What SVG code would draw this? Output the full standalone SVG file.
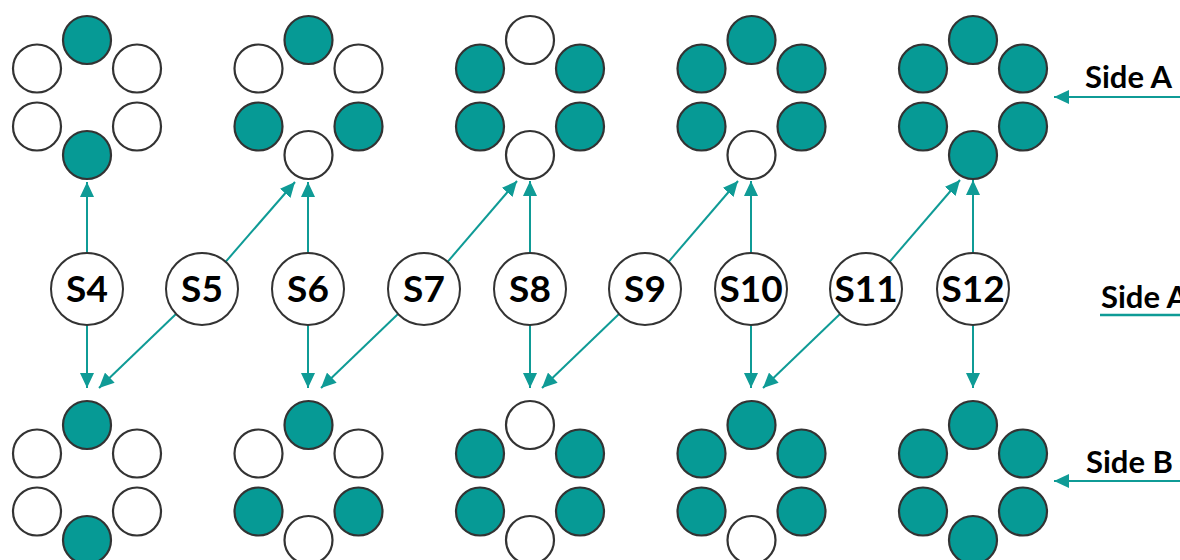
<svg xmlns="http://www.w3.org/2000/svg" width="1180" height="560" viewBox="0 0 1180 560">
<style>
.on{fill:#069a95;stroke:#333;stroke-width:2.2}
.off{fill:#fff;stroke:#333;stroke-width:2.2}
.snode{fill:#fff;stroke:#333;stroke-width:2}
.slabel{font-family:Lato,"Liberation Sans",sans-serif;font-weight:700;font-size:37px;fill:#000;text-anchor:middle}
.side{font-family:Lato,"Liberation Sans",sans-serif;font-weight:700;font-size:31px;fill:#000}
.conn{stroke:#0f9b96;stroke-width:2;fill:none;marker-end:url(#ah)}
.plain{stroke:#0f9b96;stroke-width:2.5;fill:none}
</style>
<defs>
<marker id="ah" viewBox="0 0 15 14" refX="15" refY="7" markerWidth="15" markerHeight="14" markerUnits="userSpaceOnUse" orient="auto">
<path d="M0,0 L15,7 L0,14 z" fill="#0f9b96"/>
</marker>
</defs>
<rect width="1180" height="560" fill="#fff"/>

<!-- top clusters: cy=97.5 -->
<g id="top1" transform="translate(87,97.5)">
<circle class="on" cx="0" cy="-57.5" r="24"/><circle class="off" cx="-50" cy="-29" r="24"/><circle class="off" cx="50" cy="-29" r="24"/>
<circle class="off" cx="-50" cy="29" r="24"/><circle class="off" cx="50" cy="29" r="24"/><circle class="on" cx="0" cy="57.5" r="24"/>
</g>
<g id="top2" transform="translate(308.5,97.5)">
<circle class="on" cx="0" cy="-57.5" r="24"/><circle class="off" cx="-50" cy="-29" r="24"/><circle class="off" cx="50" cy="-29" r="24"/>
<circle class="on" cx="-50" cy="29" r="24"/><circle class="on" cx="50" cy="29" r="24"/><circle class="off" cx="0" cy="57.5" r="24"/>
</g>
<g id="top3" transform="translate(530,97.5)">
<circle class="off" cx="0" cy="-57.5" r="24"/><circle class="on" cx="-50" cy="-29" r="24"/><circle class="on" cx="50" cy="-29" r="24"/>
<circle class="on" cx="-50" cy="29" r="24"/><circle class="on" cx="50" cy="29" r="24"/><circle class="off" cx="0" cy="57.5" r="24"/>
</g>
<g id="top4" transform="translate(751.5,97.5)">
<circle class="on" cx="0" cy="-57.5" r="24"/><circle class="on" cx="-50" cy="-29" r="24"/><circle class="on" cx="50" cy="-29" r="24"/>
<circle class="on" cx="-50" cy="29" r="24"/><circle class="on" cx="50" cy="29" r="24"/><circle class="off" cx="0" cy="57.5" r="24"/>
</g>
<g id="top5" transform="translate(973,97.5)">
<circle class="on" cx="0" cy="-57.5" r="24"/><circle class="on" cx="-50" cy="-29" r="24"/><circle class="on" cx="50" cy="-29" r="24"/>
<circle class="on" cx="-50" cy="29" r="24"/><circle class="on" cx="50" cy="29" r="24"/><circle class="on" cx="0" cy="57.5" r="24"/>
</g>

<!-- bottom clusters: cy=482.5 -->
<g id="bot1" transform="translate(87,482.5)">
<circle class="on" cx="0" cy="-57.5" r="24"/><circle class="off" cx="-50" cy="-29" r="24"/><circle class="off" cx="50" cy="-29" r="24"/>
<circle class="off" cx="-50" cy="29" r="24"/><circle class="off" cx="50" cy="29" r="24"/><circle class="on" cx="0" cy="57.5" r="24"/>
</g>
<g id="bot2" transform="translate(308.5,482.5)">
<circle class="on" cx="0" cy="-57.5" r="24"/><circle class="off" cx="-50" cy="-29" r="24"/><circle class="off" cx="50" cy="-29" r="24"/>
<circle class="on" cx="-50" cy="29" r="24"/><circle class="on" cx="50" cy="29" r="24"/><circle class="off" cx="0" cy="57.5" r="24"/>
</g>
<g id="bot3" transform="translate(530,482.5)">
<circle class="off" cx="0" cy="-57.5" r="24"/><circle class="on" cx="-50" cy="-29" r="24"/><circle class="on" cx="50" cy="-29" r="24"/>
<circle class="on" cx="-50" cy="29" r="24"/><circle class="on" cx="50" cy="29" r="24"/><circle class="off" cx="0" cy="57.5" r="24"/>
</g>
<g id="bot4" transform="translate(751.5,482.5)">
<circle class="on" cx="0" cy="-57.5" r="24"/><circle class="on" cx="-50" cy="-29" r="24"/><circle class="on" cx="50" cy="-29" r="24"/>
<circle class="on" cx="-50" cy="29" r="24"/><circle class="on" cx="50" cy="29" r="24"/><circle class="off" cx="0" cy="57.5" r="24"/>
</g>
<g id="bot5" transform="translate(973,482.5)">
<circle class="on" cx="0" cy="-57.5" r="24"/><circle class="on" cx="-50" cy="-29" r="24"/><circle class="on" cx="50" cy="-29" r="24"/>
<circle class="on" cx="-50" cy="29" r="24"/><circle class="on" cx="50" cy="29" r="24"/><circle class="on" cx="0" cy="57.5" r="24"/>
</g>

<!-- connectors -->
<g id="connectors">
<line class="conn" x1="87" y1="253" x2="87" y2="182"/>
<line class="conn" x1="87" y1="325" x2="87" y2="388"/>
<line class="conn" x1="225.6" y1="261.8" x2="295" y2="182"/>
<line class="conn" x1="176" y1="314" x2="99" y2="388"/>
<line class="conn" x1="308" y1="253" x2="308" y2="182"/>
<line class="conn" x1="308" y1="325" x2="308" y2="388"/>
<line class="conn" x1="447.6" y1="261.8" x2="517" y2="181"/>
<line class="conn" x1="398" y1="314" x2="321" y2="388"/>
<line class="conn" x1="530" y1="253" x2="530" y2="181"/>
<line class="conn" x1="530" y1="325" x2="530" y2="388"/>
<line class="conn" x1="668.6" y1="261.8" x2="738" y2="181"/>
<line class="conn" x1="619" y1="314" x2="542" y2="388"/>
<line class="conn" x1="751" y1="253" x2="751" y2="181"/>
<line class="conn" x1="751" y1="325" x2="751" y2="388"/>
<line class="conn" x1="889.6" y1="261.8" x2="960" y2="180"/>
<line class="conn" x1="840" y1="314" x2="763" y2="388"/>
<line class="conn" x1="973" y1="253" x2="973" y2="180"/>
<line class="conn" x1="973" y1="325" x2="973" y2="388"/>
<line class="conn" x1="1182" y1="97" x2="1054" y2="97"/>
<line class="conn" x1="1182" y1="481" x2="1054" y2="481"/>
<line class="plain" x1="1100" y1="315" x2="1182" y2="315"/>
</g>

<!-- S nodes -->
<g id="S4"><circle class="snode" cx="87" cy="289" r="36"/><text class="slabel" x="87" y="302">S4</text></g>
<g id="S5"><circle class="snode" cx="202" cy="289" r="36"/><text class="slabel" x="202" y="302">S5</text></g>
<g id="S6"><circle class="snode" cx="308" cy="289" r="36"/><text class="slabel" x="308" y="302">S6</text></g>
<g id="S7"><circle class="snode" cx="424" cy="289" r="36"/><text class="slabel" x="424" y="302">S7</text></g>
<g id="S8"><circle class="snode" cx="530" cy="289" r="36"/><text class="slabel" x="530" y="302">S8</text></g>
<g id="S9"><circle class="snode" cx="645" cy="289" r="36"/><text class="slabel" x="645" y="302">S9</text></g>
<g id="S10"><circle class="snode" cx="751" cy="289" r="36"/><text class="slabel" x="751" y="302">S10</text></g>
<g id="S11"><circle class="snode" cx="866" cy="289" r="36"/><text class="slabel" x="866" y="302">S11</text></g>
<g id="S12"><circle class="snode" cx="973" cy="289" r="36"/><text class="slabel" x="973" y="302">S12</text></g>

<!-- side labels -->
<g id="label-sideA-top"><text class="side" x="1085" y="88">Side A</text></g>
<g id="label-sideA-mid"><text class="side" x="1101" y="308">Side A</text></g>
<g id="label-sideB"><text class="side" x="1086" y="473">Side B</text></g>
</svg>
